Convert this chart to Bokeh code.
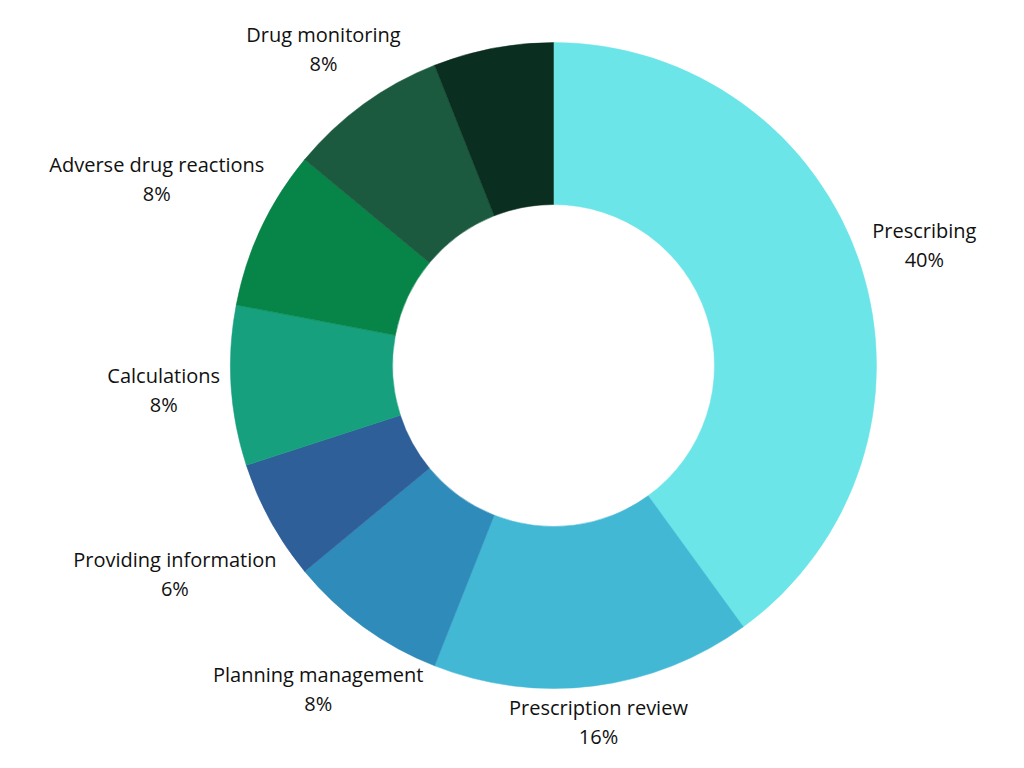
import math
from bokeh.plotting import figure
from bokeh.models import Range1d, ColumnDataSource
from bokeh.core.properties import value
from bokeh.embed import file_html
from bokeh.resources import INLINE

categories = ["Prescribing", "Prescription review", "Planning management",
              "Providing information", "Calculations", "Adverse drug reactions",
              "Drug monitoring", ""]
shares = [40, 16, 8, 6, 8, 8, 8, 6]
pct_labels = ["40%", "16%", "8%", "6%", "8%", "8%", "8%", ""]
colors = ["#6be5e8", "#42b8d4", "#2e8bba", "#2f5f98", "#16a07e", "#078447",
          "#1b5a3e", "#0a2e1f"]

W, H = 1008, 752
CX, CY = 553, 365  # canvas position of donut centre
R_OUT, R_IN = 323, 161
FONT_PX = 20
LINE_GAP = 29

p = figure(width=W, height=H, output_backend="svg", toolbar_location=None,
           x_range=Range1d(-CX, W - CX), y_range=Range1d(CY - H, CY),
           min_border=0)
p.axis.visible = False
p.grid.visible = False
p.outline_line_color = None
p.background_fill_color = "white"
p.border_fill_color = "white"

total = float(sum(shares))
cum = 0.0
starts, ends, mids = [], [], []
for s in shares:
    a0 = math.pi / 2 - 2 * math.pi * (cum + s) / total
    a1 = math.pi / 2 - 2 * math.pi * cum / total
    starts.append(a0)
    ends.append(a1)
    mids.append((a0 + a1) / 2)
    cum += s

src = ColumnDataSource(dict(start=starts, end=ends, color=colors))
p.annular_wedge(x=0, y=0, inner_radius=R_IN, outer_radius=R_OUT,
                start_angle="start", end_angle="end", color="color",
                line_color="color", line_width=0.5, direction="anticlock", source=src)


def box_dist(cx, cy, hw, hh):
    dx = max(abs(cx) - hw, 0.0)
    dy = max(abs(cy) - hh, 0.0)
    return math.hypot(dx, dy)


gap = R_OUT + 8
lx, ly1, ly2, t1, t2 = [], [], [], [], []
for name, pl, m in zip(categories, pct_labels, mids):
    if not name:
        continue
    hw = len(name) * 0.49 * FONT_PX / 2
    hh = 25
    ux, uy = math.cos(m), math.sin(m)
    lo, hi = 0.0, 800.0
    for _ in range(60):
        mid = (lo + hi) / 2
        if box_dist(ux * mid, uy * mid, hw, hh) < gap:
            lo = mid
        else:
            hi = mid
    cx, cy = ux * hi, uy * hi
    lx.append(cx)
    ly1.append(cy + LINE_GAP / 2)
    ly2.append(cy - LINE_GAP / 2)
    t1.append(name)
    t2.append(pl)

p.text(x=lx, y=ly1, text=t1, text_align="center", text_baseline="middle",
       text_font=value("Open Sans"), text_font_size=f"{FONT_PX}px", text_color="#111111")
p.text(x=lx, y=ly2, text=t2, text_align="center", text_baseline="middle",
       text_font=value("Open Sans"), text_font_size=f"{FONT_PX}px", text_color="#111111")

open("out.html", "w").write(file_html(p, INLINE))
